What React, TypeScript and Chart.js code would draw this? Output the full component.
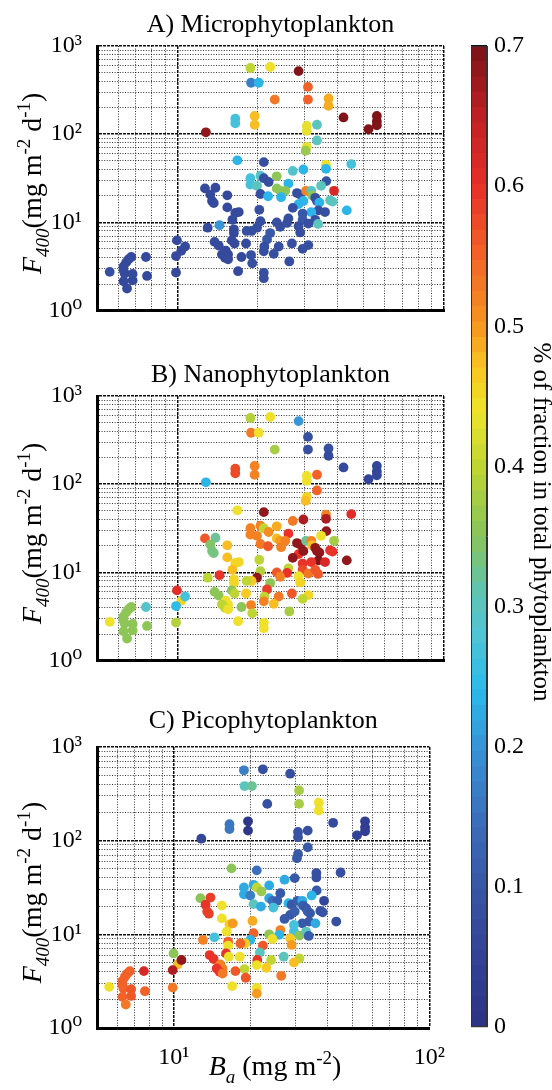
import React, { useEffect, useRef } from 'react';
import { Chart, registerables } from 'chart.js';

Chart.register(...registerables);

const SERIF = '"Liberation Serif", "Times New Roman", "DejaVu Serif", serif';

// ---- data: one entry per station (shared positions, three colourings) ----
const BA = [
  18.8, 22.3, 28.5, 18.9, 20.2, 30.9, 23.2, 30.9, 36.9, 36.9,
  19.5, 19.5, 16.5, 16.5, 42.0, 52.1, 56.0, 56.0, 56.0, 12.8,
  30.6, 30.6, 33.4, 33.4, 30.6, 30.3, 16.8, 21.1, 36.1, 36.1,
  44.9, 27.1, 29.7, 18.8, 18.8, 20.5, 21.1, 23.6, 22.0, 19.9,
  26.1, 23.6, 24.3, 25.4, 36.2, 34.6, 20.5, 21.9, 24.5, 28.1,
  28.9, 30.4, 31.8, 32.0, 32.9, 33.4, 38.7, 28.5, 29.7, 37.4,
  38.2, 34.1, 27.1, 20.3, 33.8, 35.8, 31.8, 43.2, 29.5, 29.5,
  26.1, 25.8, 23.6, 24.3, 20.5, 19.9, 19.0, 18.2, 28.5, 28.9,
  31.0, 32.9, 33.7, 22.3, 21.7, 26.9, 31.0, 29.5, 21.2, 21.1,
  24.0, 23.0, 18.9, 19.1, 26.3, 21.1, 21.1, 12.7, 13.9, 13.3,
  13.5, 13.7, 15.4, 15.4, 16.5, 17.0, 16.1, 14.4, 13.0, 16.3,
  16.3, 16.0, 16.4, 13.8, 14.3, 15.2, 15.5, 14.7, 15.1, 15.5,
  17.4, 18.1, 16.9, 9.97, 10.35, 10.7, 9.89, 9.89, 7.63, 7.7,
  6.72, 6.57, 6.43, 6.29, 6.29, 6.35, 6.8, 6.8, 6.29, 6.48,
  5.58,
];
const F400 = [
  564, 578, 519, 383, 383, 344, 247, 247, 254, 210,
  161, 128, 150, 133, 155, 114, 161, 139, 126, 105,
  124, 109, 128, 85, 72, 65, 50.6, 48.2, 45.1, 40.5,
  45.8, 38.3, 39.8, 31.7, 26.8, 33.8, 31.7, 33.3, 28.7, 26.0,
  27.5, 24.3, 22.8, 22.8, 29.4, 26.0, 21.0, 19.8, 19.3, 21.5,
  20.7, 22.8, 22.8, 20.3, 19.0, 17.5, 22.8, 16.1, 17.5, 17.8,
  17.2, 16.8, 14.6, 13.9, 13.7, 13.1, 13.1, 13.7, 12.6, 10.7,
  11.1, 9.86, 10.0, 8.93, 10.3, 8.71, 8.0, 8.0, 9.06, 7.7,
  9.68, 10.7, 9.61, 7.57, 6.41, 5.77, 5.53, 5.01, 5.32, 4.7,
  5.32, 4.4, 4.26, 3.44, 3.61, 2.68, 2.33, 24.3, 24.7, 20.7,
  17.5, 16.6, 20.3, 14.8, 12.8, 13.1, 10.7, 9.29, 8.71, 8.35,
  7.57, 6.25, 5.77, 6.01, 5.45, 4.77, 4.32, 4.32, 3.98, 3.82,
  4.05, 5.77, 2.8, 6.25, 4.77, 5.32, 4.15, 2.7, 4.05, 2.47,
  4.05, 3.82, 3.52, 3.17, 2.87, 2.64, 2.6, 2.2, 2.15, 1.78,
  2.75,
];
const MICRO = [
  .40, .44, .70, .17, .23, .55, .53, .55, .49, .49,
  .48, .48, .27, .27, .70, .70, .70, .70, .70, .68,
  .43, .43, .30, .30, .43, .37, .24, .08, .44, .23,
  .27, .29, .24, .27, .27, .29, .08, .35, .08, .30,
  .24, .35, .35, .35, .09, .30, .08, .23, .23, .08,
  .08, .52, .29, .36, .08, .08, .62, .23, .23, .30,
  .30, .23, .08, .08, .08, .08, .23, .24, .10, .10,
  .08, .08, .08, .08, .08, .08, .08, .08, .08, .08,
  .08, .08, .30, .10, .10, .08, .08, .08, .08, .08,
  .08, .08, .08, .08, .08, .08, .08, .07, .07, .07,
  .07, .07, .07, .07, .07, .07, .07, .20, .07, .07,
  .07, .07, .07, .07, .07, .07, .07, .07, .07, .07,
  .07, .07, .07, .07, .07, .07, .07, .07, .07, .07,
  .07, .07, .07, .07, .07, .07, .07, .07, .07, .07,
  .08,
];
const NANO = [
  .39, .44, .20, .53, .44, .08, .38, .08, .08, .07,
  .52, .52, .57, .57, .07, .06, .06, .06, .06, .24,
  .44, .44, .55, .55, .45, .48, .44, .68, .52, .66,
  .61, .53, .66, .52, .52, .52, .40, .49, .51, .52,
  .60, .48, .50, .52, .68, .44, .53, .56, .52, .68,
  .68, .32, .52, .48, .68, .68, .38, .60, .68, .60,
  .60, .68, .68, .40, .70, .62, .60, .68, .60, .57,
  .40, .60, .56, .52, .39, .68, .47, .40, .44, .45,
  .53, .56, .56, .36, .58, .56, .45, .40, .40, .52,
  .53, .48, .52, .40, .38, .44, .44, .56, .32, .34,
  .33, .33, .48, .48, .45, .45, .48, .60, .40, .45,
  .45, .36, .40, .36, .36, .44, .44, .40, .40, .44,
  .36, .47, .44, .61, .45, .27, .25, .39, .29, .35,
  .36, .36, .36, .36, .36, .36, .35, .35, .36, .35,
  .44,
];
const PICO = [
  .17, .08, .08, .30, .32, .38, .08, .38, .44, .44,
  .02, .02, .16, .16, .07, .05, .04, .04, .04, .06,
  .09, .09, .08, .10, .10, .10, .36, .15, .08, .08,
  .08, .22, .10, .22, .22, .22, .40, .22, .37, .17,
  .10, .22, .15, .12, .10, .24, .30, .22, .27, .23,
  .10, .12, .22, .12, .10, .12, .06, .10, .12, .09,
  .09, .10, .10, .49, .10, .22, .10, .08, .27, .27,
  .52, .23, .36, .44, .55, .23, .47, .55, .47, .50,
  .36, .30, .12, .56, .30, .30, .40, .48, .60, .44,
  .40, .47, .40, .56, .53, .44, .50, .36, .58, .60,
  .58, .58, .44, .44, .47, .50, .44, .27, .52, .55,
  .44, .60, .44, .60, .60, .52, .52, .60, .60, .53,
  .56, .44, .44, .36, .48, .68, .66, .53, .62, .55,
  .55, .55, .55, .55, .55, .55, .56, .56, .55, .53,
  .44,
];

const PANEL_TITLES = ['A) Microphytoplankton', 'B) Nanophytoplankton', 'C) Picophytoplankton'];
const X_GRID = [5, 6, 7, 8, 9, 10, 20, 30, 40, 50, 60, 70, 80, 90, 100];
const Y_GRID = [1, 2, 3, 4, 5, 6, 7, 8, 9, 10, 20, 30, 40, 50, 60, 70, 80, 90, 100, 200, 300, 400, 500, 600, 700, 800, 900, 1000];
const DECADE_LABELS: Record<number, string> = { 1: '10\u2070', 10: '10\u00b9', 100: '10\u00b2', 1000: '10\u00b3' };
const CBAR_TICKS = [0, 0.1, 0.2, 0.3, 0.4, 0.5, 0.6, 0.7];
const CBAR_TITLE = '% of fraction in total phytoplankton';

type Run = { t: string; size: number; italic?: boolean; dy: number };
const Y_TITLE: Run[] = [
  { t: 'F', size: 28, italic: true, dy: 0 },
  { t: '400', size: 19, italic: true, dy: 8 },
  { t: '(mg m', size: 28, dy: 0 },
  { t: '-2', size: 19, dy: -11 },
  { t: ' d', size: 28, dy: 0 },
  { t: '-1', size: 19, dy: -11 },
  { t: ')', size: 28, dy: 0 },
];
const X_TITLE: Run[] = [
  { t: 'B', size: 28, italic: true, dy: 0 },
  { t: 'a', size: 19, italic: true, dy: 8 },
  { t: ' (mg m', size: 28, dy: 0 },
  { t: '-2', size: 19, dy: -11 },
  { t: ')', size: 28, dy: 0 },
];

// colormap (value, r, g, b)
const CMAP_STOPS: number[][] = [
  [0.00, 44, 50, 131],
  [0.05, 50, 66, 150],
  [0.10, 56, 86, 166],
  [0.15, 60, 112, 188],
  [0.20, 55, 148, 214],
  [0.24, 42, 186, 234],
  [0.28, 80, 196, 214],
  [0.31, 95, 196, 178],
  [0.35, 135, 196, 90],
  [0.40, 192, 213, 50],
  [0.44, 238, 228, 42],
  [0.47, 249, 198, 32],
  [0.50, 246, 150, 32],
  [0.55, 241, 100, 40],
  [0.60, 232, 46, 40],
  [0.65, 190, 32, 36],
  [0.70, 122, 18, 22],
];
const CBAR_MAX = 0.7;
const CMAP_LEVELS = 64;

function interpColor(v: number): string {
  for (let i = 0; i < CMAP_STOPS.length - 1; i++) {
    const a = CMAP_STOPS[i];
    const b = CMAP_STOPS[i + 1];
    if (v <= b[0]) {
      const f = Math.max(0, (v - a[0]) / (b[0] - a[0]));
      const c = [1, 2, 3].map((k) => Math.round(a[k] + (b[k] - a[k]) * f));
      return `rgb(${c[0]},${c[1]},${c[2]})`;
    }
  }
  const l = CMAP_STOPS[CMAP_STOPS.length - 1];
  return `rgb(${l[1]},${l[2]},${l[3]})`;
}
function levelColor(idx: number): string {
  return interpColor(((idx + 0.5) / CMAP_LEVELS) * CBAR_MAX);
}
function cmapColor(v: number): string {
  const t = Math.min(Math.max(v, 0), CBAR_MAX);
  const idx = Math.min(CMAP_LEVELS - 1, Math.floor((t / CBAR_MAX) * CMAP_LEVELS));
  return levelColor(idx);
}

function drawRuns(ctx: CanvasRenderingContext2D, runs: Run[], cx: number, cy: number, rot: number) {
  ctx.save();
  ctx.translate(cx, cy);
  ctx.rotate(rot);
  ctx.fillStyle = '#000';
  ctx.textBaseline = 'alphabetic';
  ctx.textAlign = 'left';
  const fontOf = (r: Run) => `${r.italic ? 'italic ' : ''}${r.size}px ${SERIF}`;
  let total = 0;
  for (const r of runs) {
    ctx.font = fontOf(r);
    total += ctx.measureText(r.t).width;
  }
  let x = -total / 2;
  for (const r of runs) {
    ctx.font = fontOf(r);
    ctx.fillText(r.t, x, r.dy);
    x += ctx.measureText(r.t).width;
  }
  ctx.restore();
}

const panelDecor = {
  id: 'panelDecor',
  afterDraw(chart: any, _args: any, opts: any) {
    const { ctx, chartArea: a } = chart;
    ctx.save();
    ctx.fillStyle = '#000';
    ctx.font = `26px ${SERIF}`;
    ctx.textAlign = 'center';
    ctx.textBaseline = 'alphabetic';
    ctx.fillText(opts.title, (a.left + a.right) / 2, a.top - opts.titleGap);
    ctx.restore();
    drawRuns(ctx, Y_TITLE, 41, (a.top + a.bottom) / 2 + 5, -Math.PI / 2);
    if (opts.showX) drawRuns(ctx, X_TITLE, 275, a.bottom + 47, 0);
  },
};

function gridStyle(majors: number[]) {
  const isMajor = (c: any) => c && c.tick && majors.indexOf(c.tick.value) >= 0;
  return {
    grid: {
      drawTicks: false,
      color: (c: any) => (isMajor(c) ? 'rgba(0,0,0,0.95)' : 'rgba(0,0,0,0.8)'),
      lineWidth: (c: any) => (isMajor(c) ? 1.5 : 1),
    },
    border: {
      display: true,
      color: '#000',
      width: 3,
      dash: (c: any) => (isMajor(c) ? [3, 1] : [1, 1.6]),
    },
  };
}

function Panel(props: { frac: number[]; title: string; showX: boolean; top: number; height: number; padTop: number; xHeight: number; titleGap: number }) {
  const ref = useRef<HTMLCanvasElement>(null);
  useEffect(() => {
    const { frac, title, showX, padTop, xHeight, titleGap } = props;
    const xs = gridStyle([10, 100]);
    const ys = gridStyle([1, 10, 100, 1000]);
    const chart = new Chart(ref.current as HTMLCanvasElement, {
      type: 'scatter',
      data: {
        datasets: [
          {
            data: BA.map((x, i) => ({ x, y: F400[i] })),
            backgroundColor: frac.map(cmapColor),
            borderWidth: 0,
            pointRadius: 4.9,
            pointHoverRadius: 4.9,
          },
        ],
      },
      options: {
        responsive: false,
        animation: false,
        events: [],
        layout: { padding: { left: 0, top: padTop, right: 16, bottom: 0 } },
        plugins: {
          legend: { display: false },
          tooltip: { enabled: false },
          panelDecor: { title, showX, titleGap },
        } as any,
        scales: {
          x: {
            type: 'logarithmic',
            min: 5,
            max: 100,
            afterBuildTicks: (s: any) => {
              s.ticks = X_GRID.map((v) => ({ value: v }));
            },
            afterFit: (s: any) => {
              s.height = xHeight;
            },
            ticks: {
              autoSkip: false,
              maxRotation: 0,
              padding: 15,
              color: '#000',
              font: { family: SERIF, size: 24 },
              callback: (v: any) => (showX ? DECADE_LABELS[Number(v)] || '' : ''),
            },
            ...xs,
          },
          y: {
            type: 'logarithmic',
            min: 1,
            max: 1000,
            afterBuildTicks: (s: any) => {
              s.ticks = Y_GRID.map((v) => ({ value: v }));
            },
            afterFit: (s: any) => {
              s.width = 97;
            },
            ticks: {
              autoSkip: false,
              padding: 15,
              color: '#000',
              font: { family: SERIF, size: 24 },
              callback: (v: any) => DECADE_LABELS[Number(v)] || '',
            },
            ...ys,
          },
        } as any,
      },
      plugins: [panelDecor],
    });
    return () => chart.destroy();
  }, []);
  return (
    <canvas
      ref={ref}
      width={460}
      height={props.height}
      style={{ position: 'absolute', left: 0, top: props.top, width: 460, height: props.height }}
    />
  );
}

const cbarDecor = {
  id: 'cbarDecor',
  afterDraw(chart: any) {
    const { ctx, chartArea: a } = chart;
    ctx.save();
    ctx.strokeStyle = '#333';
    ctx.lineWidth = 1;
    ctx.strokeRect(a.left + 0.5, a.top + 0.5, a.right - a.left - 1, a.bottom - a.top - 1);
    ctx.translate(101, 522);
    ctx.rotate(Math.PI / 2);
    ctx.fillStyle = '#000';
    ctx.font = `25px ${SERIF}`;
    ctx.textAlign = 'center';
    ctx.textBaseline = 'middle';
    ctx.fillText(CBAR_TITLE, 0, 0);
    ctx.restore();
  },
};

function ColorBar() {
  const ref = useRef<HTMLCanvasElement>(null);
  useEffect(() => {
    const levels = Array.from({ length: CMAP_LEVELS }, (_, i) => i);
    const chart = new Chart(ref.current as HTMLCanvasElement, {
      type: 'bar',
      data: {
        labels: [''],
        datasets: levels.map((i) => ({
          data: [CBAR_MAX / CMAP_LEVELS],
          backgroundColor: levelColor(i),
          borderWidth: 0,
          barPercentage: 1,
          categoryPercentage: 1,
          stack: 'cbar',
        })),
      },
      options: {
        responsive: false,
        animation: false,
        events: [],
        layout: { padding: { left: 31, top: 46, right: 0, bottom: 63 } },
        plugins: { legend: { display: false }, tooltip: { enabled: false } },
        scales: {
          x: { display: false, stacked: true },
          y: {
            stacked: true,
            position: 'right',
            min: 0,
            max: CBAR_MAX,
            z: 1,
            afterBuildTicks: (s: any) => {
              s.ticks = CBAR_TICKS.map((v) => ({ value: v }));
            },
            afterFit: (s: any) => {
              s.width = 65;
            },
            ticks: {
              padding: 7,
              color: '#000',
              font: { family: SERIF, size: 24 },
              callback: (v: any) => (Number(v) === 0 ? '0' : Number(v).toFixed(1)),
            },
            grid: { drawTicks: false, color: '#111', lineWidth: 1.2 },
            border: { display: true, color: '#333', width: 1 },
          },
        } as any,
      },
      plugins: [cbarDecor],
    });
    return () => chart.destroy();
  }, []);
  return (
    <canvas
      ref={ref}
      width={112}
      height={1090}
      style={{ position: 'absolute', left: 440, top: 0, width: 112, height: 1090 }}
    />
  );
}

export default function App() {
  return (
    <div style={{ position: 'absolute', left: 0, top: 0, width: 552, height: 1090, background: '#fff', overflow: 'hidden' }}>
      <Panel frac={MICRO} title={PANEL_TITLES[0]} showX={false} top={0} height={340} padTop={46} xHeight={14} titleGap={14} />
      <Panel frac={NANO} title={PANEL_TITLES[1]} showX={false} top={350} height={340} padTop={46} xHeight={14} titleGap={14} />
      <Panel frac={PICO} title={PANEL_TITLES[2]} showX={true} top={700} height={390} padTop={47} xHeight={62} titleGap={19} />
      <ColorBar />
    </div>
  );
}
